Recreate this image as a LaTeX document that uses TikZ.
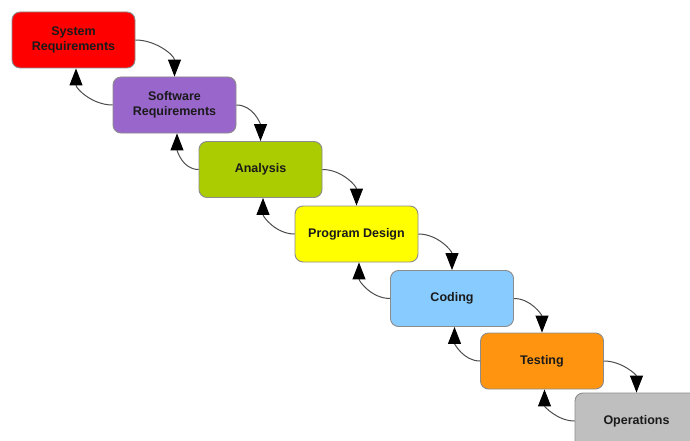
\documentclass[tikz,border=0pt]{standalone}
\usepackage{fontspec}
\setmainfont{Liberation Sans}
\usetikzlibrary{arrows.meta}
\definecolor{cRed}{HTML}{FF0000}
\definecolor{cPurple}{HTML}{9966CC}
\definecolor{cGreen}{HTML}{AACC00}
\definecolor{cYellow}{HTML}{FFFF00}
\definecolor{cBlue}{HTML}{88CCFF}
\definecolor{cOrange}{HTML}{FF9410}
\definecolor{cGray}{HTML}{BFBFBF}
\definecolor{cBorder}{HTML}{8C8C8C}
\definecolor{cLine}{HTML}{4D4D4D}
\definecolor{cText}{HTML}{1A1A1A}
\tikzset{
  phase/.style={draw=cBorder, line width=0.9pt, rounded corners=8pt,
    minimum width=123pt, minimum height=56pt, inner sep=0pt,
    align=center, font=\bfseries\fontsize{12.5}{15}\selectfont, text=cText},
  flow/.style={draw=cLine, line width=1pt,
    -{Triangle[length=17pt,width=13pt,fill=black,color=black]}}
}
\begin{document}
\begin{tikzpicture}[x=1pt,y=1pt]
\useasboundingbox (0,0) rectangle (690,-441);
\clip (0,0) rectangle (690,-441);
\fill[white] (0,0) rectangle (690,-441);
\node[phase, fill=cRed]    (sys)  at (73.5,-40)   {System\\Requirements};
\node[phase, fill=cPurple] (soft) at (174.5,-105) {Software\\Requirements};
\node[phase, fill=cGreen]  (ana)  at (260.5,-169.5) {Analysis};
\node[phase, fill=cYellow] (pd)   at (356.5,-234) {Program Design};
\node[phase, fill=cBlue]   (cod)  at (452,-298.5) {Coding};
\node[phase, fill=cOrange] (tst)  at (542,-361)   {Testing};
\node[phase, fill=cGray]   (ops)  at (636.5,-421) {Operations};
\foreach \a/\b in {sys/soft, soft/ana, ana/pd, pd/cod, cod/tst, tst/ops}{
  \draw[flow] (\a.east) to[out=0,in=90] (\b.north);
  \draw[flow] (\b.west) to[out=180,in=-90] ([xshift=2.5pt]\a.south);
}
\end{tikzpicture}
\end{document}
